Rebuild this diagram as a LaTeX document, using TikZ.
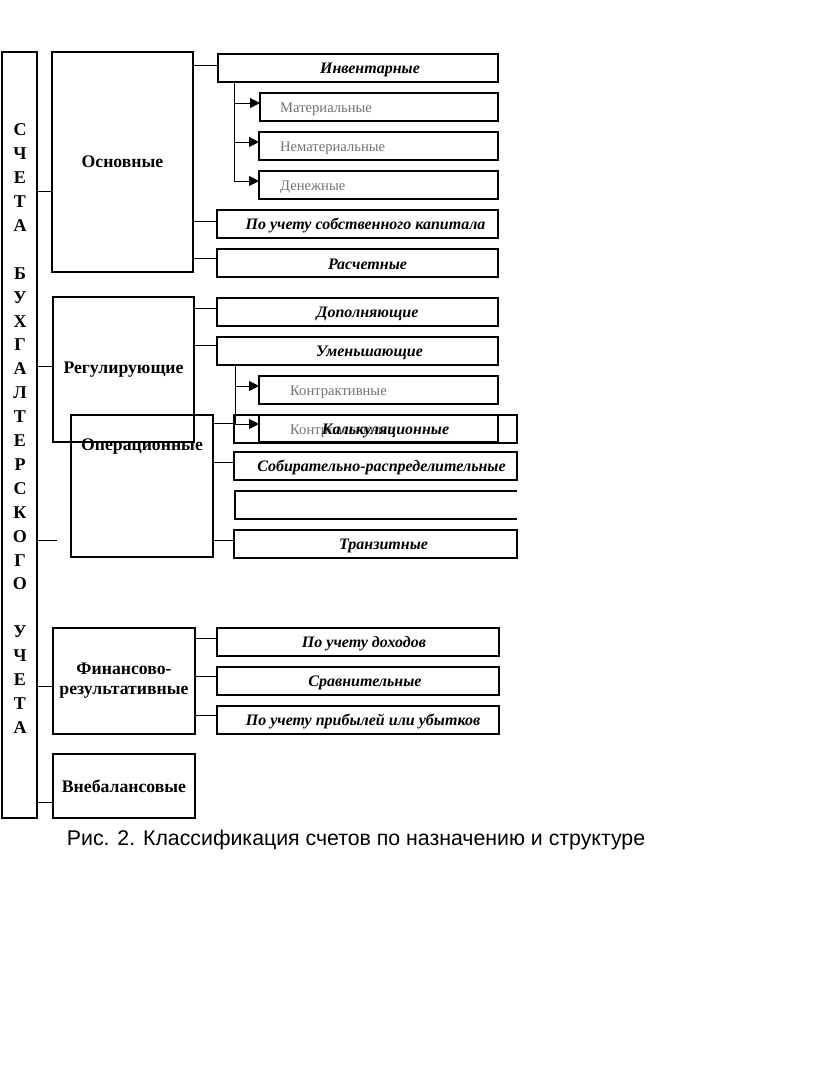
\documentclass[tikz,border=0pt]{standalone}
\usepackage{fontspec}
\setmainfont{Liberation Serif}
\newfontfamily\capfont{Liberation Sans}
\usetikzlibrary{arrows.meta}
\begin{document}
\begin{tikzpicture}[x=1pt,y=-1pt,
 box/.style={draw, line width=1.5pt, inner sep=0pt, outer sep=0pt, anchor=north west, align=center},
 con/.style={line width=0.9pt},
 arr/.style={line width=0.9pt, -{Triangle[length=10pt,width=10pt]}},
 itl/.style={font=\fontsize{16}{18}\selectfont\bfseries\itshape, inner sep=0pt, yshift=-1.5pt},
 gry/.style={font=\fontsize{14.6}{17}\selectfont, text=black!55, inner sep=0pt, anchor=west, yshift=-2.5pt},
 mainl/.style={font=\fontsize{17.7}{20}\selectfont\bfseries},
 vlet/.style={font=\fontsize{18}{20}\selectfont\bfseries, inner sep=0pt}
]
\useasboundingbox (0,0) rectangle (816,1067);
\fill[white] (0,0) rectangle (816,1067);

% left frame with vertical text
\node[box, minimum width=35pt, minimum height=766pt] (frame) at (2,52) {};
\foreach \l [count=\i] in {С,Ч,Е,Т,А,{},Б,У,Х,Г,А,Л,Т,Е,Р,С,К,О,Г,О,{},У,Ч,Е,Т,А}
  \node[vlet] (v\i) at (20,{130+(\i-1)*23.9}) {\l};

% main groups
\node[box, mainl, minimum width=141pt, minimum height=220pt] (osn) at (52,52) {Основные};
\node[box, mainl, minimum width=141pt, minimum height=145pt] (reg) at (53,297) {Регулирующие};
\node[box, minimum width=142pt, minimum height=142pt] (opr) at (71,415) {};
\node[mainl, inner sep=0pt] (opr-t) at ([yshift=-32pt]opr.north) {Операционные};
\node[box, mainl, minimum width=142pt, minimum height=106pt] (fin) at (53,628) {Финансово-\\результативные};
\node[box, mainl, minimum width=142pt, minimum height=64pt] (vneb) at (53,754) {Внебалансовые};

% Основные
\node[box, minimum width=280pt, minimum height=28pt] (inv) at (218,54) {};
\node[itl] (inv-t) at ([xshift=12pt]inv.center) {Инвентарные};
\node[box, minimum width=238pt, minimum height=28pt] (mat) at (260,93) {};
\node[gry] (mat-t) at ([xshift=20pt]mat.west) {Материальные};
\node[box, minimum width=239pt, minimum height=28pt] (nemat) at (259,132) {};
\node[gry] (nemat-t) at ([xshift=21pt]nemat.west) {Нематериальные};
\node[box, minimum width=239pt, minimum height=28pt] (den) at (259,171) {};
\node[gry] (den-t) at ([xshift=21pt]den.west) {Денежные};
\node[box, minimum width=281pt, minimum height=28pt] (sobk) at (217,210) {};
\node[itl] (sobk-t) at ([xshift=8pt]sobk.center) {По учету собственного капитала};
\node[box, minimum width=281pt, minimum height=28pt] (rasch) at (217,249) {};
\node[itl] (rasch-t) at ([xshift=10pt]rasch.center) {Расчетные};

% Регулирующие
\node[box, minimum width=281pt, minimum height=28pt] (dop) at (217,298) {};
\node[itl] (dop-t) at ([xshift=10pt]dop.center) {Дополняющие};
\node[box, minimum width=281pt, minimum height=28pt] (umen) at (217,337) {};
\node[itl] (umen-t) at ([xshift=12pt]umen.center) {Уменьшающие};
\node[box, minimum width=239pt, minimum height=28pt] (kakt) at (259,376) {};
\node[gry] (kakt-t) at ([xshift=31pt]kakt.west) {Контрактивные};
\node[box, minimum width=239pt, minimum height=27pt] (kpas) at (259,415) {};
\node[gry] (kpas-t) at ([xshift=31pt]kpas.west) {Контрпассивные};

% Операционные
\node[box, minimum width=283pt, minimum height=28pt] (kalk) at (234,415) {};
\node[itl] (kalk-t) at ([xshift=10pt]kalk.center) {Калькуляционные};
\node[box, minimum width=283pt, minimum height=28pt] (sobr) at (234,452) {};
\node[itl] (sobr-t) at ([xshift=6pt]sobr.center) {Собирательно-распределительные};
\draw[line width=1.5pt] (517,491) -- (235,491) -- (235,519) -- (517,519);
\node[box, minimum width=283pt, minimum height=28pt] (tranz) at (234,530) {};
\node[itl] (tranz-t) at ([xshift=8pt]tranz.center) {Транзитные};

% Финансово-результативные
\node[box, minimum width=282pt, minimum height=28pt] (doh) at (217,628) {};
\node[itl] (doh-t) at ([xshift=6pt]doh.center) {По учету доходов};
\node[box, minimum width=282pt, minimum height=28pt] (srav) at (217,667) {};
\node[itl] (srav-t) at ([xshift=7pt]srav.center) {Сравнительные};
\node[box, minimum width=282pt, minimum height=28pt] (prib) at (217,706) {};
\node[itl] (prib-t) at ([xshift=5pt]prib.center) {По учету прибылей или убытков};

% connectors from frame
\draw[con] (frame.east |- 0,191) -- (osn.west |- 0,191);
\draw[con] (frame.east |- 0,366) -- (reg.west |- 0,366);
\coordinate (oprfree) at (57,540);
\draw[con] (frame.east |- oprfree) -- (oprfree);
\draw[con] (frame.east |- 0,686) -- (fin.west |- 0,686);
\draw[con] (frame.east |- 0,802) -- (vneb.west |- 0,802);

% Основные connectors
\draw[con] (osn.east |- 0,65) -- (inv.west |- 0,65);
\draw[con] (osn.east |- 0,221) -- (sobk.west |- 0,221);
\draw[con] (osn.east |- 0,258) -- (rasch.west |- 0,258);
\coordinate (invb) at (inv.south -| 234,0);
\coordinate (invb1) at (234,103);
\coordinate (invb2) at (234,142);
\coordinate (invb3) at (234,181);
\draw[con] (invb) -- (invb3);
\draw[arr] (invb1) -- (mat.west |- invb1);
\draw[arr] (invb2) -- (nemat.west |- invb2);
\draw[arr] (invb3) -- (den.west |- invb3);

% Регулирующие connectors
\draw[con] (reg.east |- 0,308) -- (dop.west |- 0,308);
\draw[con] (reg.east |- 0,345) -- (umen.west |- 0,345);
\coordinate (umb) at (umen.south -| 235,0);
\coordinate (umb1) at (235,386);
\coordinate (umb2) at (235,424);
\draw[con] (umb) -- (umb2);
\draw[arr] (umb1) -- (kakt.west |- umb1);
\draw[arr] (umb2) -- (kpas.west |- umb2);

% Операционные connectors
\draw[con] (opr.east |- 0,423) -- (kalk.west |- 0,423);
\draw[con] (opr.east |- 0,462) -- (sobr.west |- 0,462);
\draw[con] (opr.east |- 0,540) -- (tranz.west |- 0,540);

% Финансово-результативные connectors
\draw[con] (fin.east |- 0,638) -- (doh.west |- 0,638);
\draw[con] (fin.east |- 0,676) -- (srav.west |- 0,676);
\draw[con] (fin.east |- 0,715) -- (prib.west |- 0,715);

% caption
\node[font=\capfont\fontsize{21.3}{24}\selectfont, inner sep=0pt] (cap) at (356,840) {Рис. 2. Классификация счетов по назначению и структуре};
\end{tikzpicture}
\end{document}
